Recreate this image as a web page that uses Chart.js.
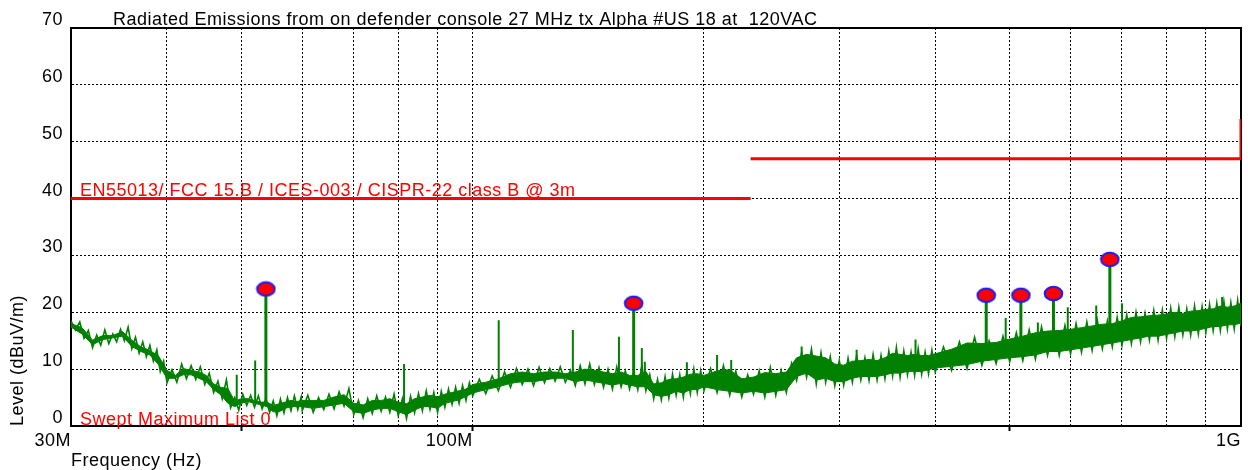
<!DOCTYPE html>
<html><head><meta charset="utf-8">
<script src="https://cdn.jsdelivr.net/npm/chart.js@4.4.1/dist/chart.umd.min.js"></script>
<style>html,body{margin:0;padding:0;background:#fff;overflow:hidden}</style>
</head><body>
<canvas id="c" width="1248" height="470"></canvas>
<script>
const chartTitle = 'Radiated Emissions from on defender console 27 MHz tx Alpha #US 18 at  120VAC';
const limitLabel = 'EN55013/ FCC 15.B / ICES-003 / CISPR-22 class B @ 3m';
const traceLabel = 'Swept Maximum List 0';
const xAxisTitle = 'Frequency (Hz)';
const yAxisTitle = 'Level (dBuV/m)';

const xTickValues = [30,40,50,60,70,80,90,100,200,300,400,500,600,700,800,900,1000];
const xTickLabels = {30:'30M', 100:'100M', 1000:'1G'};
const xMarkedTicks = [50,100,500];

// solid core of the swept trace (MHz, dBuV/m)
const coreFreqMHz = [30,31,32,33,34,35,36,37,38,39,40,41,42,43,44,45,46,47,48,49,50,51,52,53,54,55,56,57,58,59,60,
  62,64,66,68,70,72,74,76,78,80,82,84,86,88,90,92,94,96,98,100,
  104,108,112,116,120,124,128,132,136,140,144,148,152,156,160,164,168,172,176,180,184,188,192,196,200,
  208,216,224,232,240,248,256,264,272,280,288,296,304,312,320,328,336,344,352,360,368,376,384,392,400,
  420,440,460,480,500,520,540,560,580,600,620,640,660,680,700,720,740,760,780,800,820,840,860,880,900,920,940,960,980,1000];
const coreUpper = [18.0,17.3,15.1,15.9,15.9,16.6,15.1,13.9,13.3,12.3,9.8,8.9,10.1,9.8,9.5,8.9,7.4,6.8,6.6,4.4,4.8,4.8,4.5,4.2,4.2,3.6,3.9,4.2,4.5,4.3,4.5,
  4.5,4.5,5.1,5.5,4.0,3.7,4.5,4.5,4.8,4.2,3.9,4.8,5.1,5.4,5.1,5.6,5.9,6.2,6.5,7.3,
  7.7,8.3,9.2,9.5,9.2,9.5,9.5,9.2,9.5,10.0,9.8,9.5,9.2,9.5,8.9,8.9,9.6,7.4,7.6,8.2,8.3,8.6,9.1,9.2,8.9,
  9.7,9.9,8.3,8.6,9.4,9.2,9.5,12.0,12.6,12.3,12.0,10.9,10.7,11.4,11.5,11.7,11.5,12.0,12.8,12.6,12.4,12.6,12.4,12.4,12.7,
  13.5,14.6,14.5,14.7,15.3,15.8,16.4,16.7,16.8,17.0,17.3,17.6,17.9,18.0,18.5,19.1,19.2,19.4,19.5,19.7,20.0,19.8,20.2,20.3,20.5,20.6,21.1,20.9,21.1,21.6];
const coreLower = [17.4,16.2,14.3,15.2,15.5,15.8,14.0,13.1,12.5,10.8,8.4,8.4,9.0,9.0,8.4,7.8,6.4,5.5,4.0,3.4,4.0,4.3,4.0,3.7,3.4,2.5,2.5,3.1,3.4,3.4,3.4,
  3.1,3.4,3.7,4.0,2.5,2.2,2.8,3.1,3.1,2.5,2.0,2.8,3.4,3.4,3.1,4.0,4.3,4.6,5.2,5.8,
  6.4,6.9,7.5,7.8,7.8,8.1,8.4,8.4,7.8,8.1,7.8,7.5,7.2,7.5,7.2,6.9,6.9,5.5,5.2,5.5,6.1,5.8,6.4,6.4,6.9,
  6.4,6.1,5.8,6.1,5.8,6.1,6.4,8.7,9.3,8.1,8.4,7.8,7.8,8.4,8.7,8.7,8.7,9.0,9.3,9.3,9.6,9.6,9.6,9.9,10.2,
  10.5,10.8,11.4,11.7,12.0,12.2,12.5,13.1,13.1,13.4,13.7,14.0,14.3,14.6,14.9,15.2,15.5,15.8,15.8,16.1,16.4,16.7,16.7,16.9,17.2,17.5,17.5,17.8,17.8,18.1];

// sampled noise excursions of the swept trace (MHz, dBuV/m)
const noiseFreqMHz = [30.0,30.4,30.8,31.2,31.6,32.0,32.4,32.8,33.2,33.6,34.0,34.4,34.8,35.2,35.6,36.0,36.4,36.8,37.2,37.6,38.0,38.4,38.8,39.2,39.6,
  40.0,40.6,41.2,41.8,42.4,43.0,43.6,44.2,44.8,45.4,46.0,46.6,47.2,47.8,48.4,49.0,49.6,50.2,50.8,51.4,52.0,52.6,53.2,53.8,54.4,55.0,55.6,56.2,56.8,57.4,58.0,58.6,59.2,59.8,
  60,61,62,63,64,65,66,67,68,69,70,71,72,73,74,75,76,77,78,79,80,81,82,83,84,85,86,87,88,89,90,91,92,93,94,95,96,97,98,99,
  100,102,104,106,108,110,112,114,116,118,120,122,124,126,128,130,132,134,136,138,140,142,144,146,148,150,152,154,156,158,160,162,164,166,168,170,172,174,176,178,180,182,184,186,188,190,192,194,196,198,
  200,204,208,212,216,220,224,228,232,236,240,244,248,252,256,260,264,268,272,276,280,284,288,292,296,300,304,308,312,316,320,324,328,332,336,340,344,348,352,356,360,364,368,372,376,380,384,388,392,396,
  400,410,420,430,440,450,460,470,480,490,500,510,520,530,540,550,560,570,580,590,600,610,620,630,640,650,660,670,680,690,700,710,720,730,740,750,760,770,780,790,800,810,820,830,840,850,860,870,880,890,900,910,920,930,940,950,960,970,980,990,1000];
const noiseLevel = [18.5,16.9,18.3,15.4,16.8,13.8,16.0,14.2,16.9,14.5,16.2,14.8,17.0,15.0,17.4,13.6,15.6,12.8,14.8,12.2,14.2,11.4,13.4,9.6,11.4,
  7.6,9.9,7.7,10.9,8.3,10.6,8.2,10.4,7.3,9.3,5.9,7.9,4.8,8.1,3.2,5.0,2.8,5.6,3.6,5.4,3.3,5.3,3.0,4.8,2.4,4.4,1.8,4.7,2.3,5.0,2.7,5.3,2.9,5.1,
  2.7,5.4,2.4,5.0,2.9,5.6,3.0,6.0,3.5,6.6,2.0,4.5,1.5,4.8,2.2,5.3,2.6,5.1,2.4,5.6,1.8,4.8,1.3,5.2,2.3,5.7,2.7,6.2,2.9,5.9,2.4,6.1,3.3,6.5,3.8,6.8,4.0,7.1,4.5,7.6,
  5.3,8.2,5.7,8.8,6.2,9.5,6.8,10.1,7.3,10.0,7.1,10.3,7.6,10.1,7.9,10.4,7.7,9.8,7.1,10.6,7.4,10.9,7.3,10.3,6.8,10.0,6.5,10.4,6.9,9.7,6.5,9.5,6.4,10.6,6.2,9.0,4.8,8.2,4.6,8.7,4.9,9.1,5.4,9.0,5.1,9.6,5.7,10.0,5.9,9.7,
  6.2,10.1,5.9,10.6,5.4,9.6,5.1,9.0,5.6,9.7,5.1,10.3,5.4,9.8,5.9,11.0,8.0,13.0,8.6,13.5,7.4,12.9,7.7,12.2,7.1,11.5,7.2,11.9,7.7,12.4,8.1,12.0,8.0,12.6,8.1,12.4,8.3,13.2,8.8,13.8,8.6,13.2,9.0,13.0,8.9,13.6,9.1,13.0,9.2,13.3,
  9.5,13.9,9.8,14.8,10.1,15.6,10.7,15.0,11.0,15.8,11.3,16.4,11.5,16.9,11.8,17.4,12.4,17.3,12.4,17.7,12.7,18.0,13.0,18.3,13.3,18.6,13.6,18.5,13.9,19.1,14.2,19.6,14.5,20.0,14.8,19.8,15.1,20.3,15.1,20.4,15.4,20.7,15.7,20.9,16.0,20.6,16.0,21.1,16.2,21.0,16.5,21.4,16.8,21.6,16.8,21.9,17.1,21.7,17.1,22.1,17.6];

// narrow spurs in the trace
const spikeFreqMHz = [49.3,52.1,81.4,108.1,135,155,166,167.5,190,208,217,268,316,377,494,544,595,648,700,945];
const spikeTop     = [9.0,11.5,10.9,18.6,16.9,15.7,13.7,11.3,11.2,12.5,11.6,14.0,13.4,15.2,19.0,18.2,20.9,21.2,21.6,22.7];
const spikeBase    = [4.0,4.0,3.0,7.0,8.0,8.0,8.0,7.0,7.0,7.0,7.0,10.0,10.0,11.0,13.0,14.0,15.0,16.0,17.0,19.0];

// marked peaks
const markerFreqMHz = [53.8,162,466,517,570,675];
const markerLevel   = [24.1,21.6,23.0,23.0,23.3,29.3];
const markerBase    = [4.0,8.0,13.0,14.0,15.0,17.0];

// limit line
const limitFreqMHz = [30,230,230,230,1000,1000];
const limitLevel   = [40,40,null,47,47,54];

const FONT = '"Liberation Sans", Arial, sans-serif';
Chart.defaults.font.family = FONT;
Chart.defaults.font.size = 18;
Chart.defaults.color = '#000';

function pts(xs, ys){ return xs.map((x,i)=>({x:x, y:ys[i]})); }
function stems(xs, tops, bases){
  const d = [];
  xs.forEach((x,i)=>{ d.push({x:x,y:bases[i]},{x:x,y:tops[i]},{x:x,y:null}); });
  return d;
}

const markerImg = document.createElement('canvas');
markerImg.width = 21; markerImg.height = 17;
(function(){
  const m = markerImg.getContext('2d');
  m.beginPath(); m.ellipse(10.5, 8.5, 8.8, 6.8, 0, 0, Math.PI*2);
  m.fillStyle = '#ff0000'; m.fill();
  m.lineWidth = 2; m.strokeStyle = '#1a1aff'; m.stroke();
})();

const GREEN = '#008000';

const extras = {
  id: 'extras',
  beforeLayout(chart){ chart.ctx.letterSpacing = '0.5px'; },
  beforeDraw(chart){ chart.ctx.letterSpacing = '0.5px'; },
  beforeDatasetsDraw(chart){
    const {ctx, chartArea:a} = chart;
    ctx.save();
    ctx.strokeStyle = '#000'; ctx.lineWidth = 2;
    ctx.beginPath();
    ctx.moveTo(a.left - 1, a.top); ctx.lineTo(a.right, a.top); ctx.lineTo(a.right, a.bottom);
    ctx.stroke();
    ctx.restore();
  },
  afterDatasetsDraw(chart){
    const {ctx, chartArea:a, scales} = chart;
    ctx.save();
    ctx.letterSpacing = '0.5px';
    ctx.font = '18px ' + FONT;
    ctx.textAlign = 'left'; ctx.textBaseline = 'alphabetic';
    ctx.fillStyle = '#000';
    ctx.fillText(chartTitle, 113, 25);
    ctx.fillStyle = '#ff0000';
    ctx.fillText(limitLabel, a.left + 9, scales.y.getPixelForValue(limitLevel[0]) - 3);
    ctx.fillText(traceLabel, a.left + 9, a.bottom - 1);
    ctx.restore();
  }
};

new Chart(document.getElementById('c'), {
  type: 'line',
  data: {
    datasets: [
      { data: pts(markerFreqMHz, markerLevel), showLine: false, pointStyle: markerImg, pointRadius: 10, borderColor: 'transparent', backgroundColor: 'transparent' },
      { data: pts(limitFreqMHz, limitLevel), borderColor: '#ff0000', borderWidth: 3, pointRadius: 0, spanGaps: false, fill: false },
      { data: stems(markerFreqMHz, markerLevel, markerBase), borderColor: GREEN, borderWidth: 3, pointRadius: 0, spanGaps: false, fill: false },
      { data: stems(spikeFreqMHz, spikeTop, spikeBase), borderColor: GREEN, borderWidth: 2, pointRadius: 0, spanGaps: false, fill: false },
      { data: pts(noiseFreqMHz, noiseLevel), borderColor: GREEN, borderWidth: 1.6, pointRadius: 0, fill: false },
      { data: pts(coreFreqMHz, coreUpper), borderColor: GREEN, borderWidth: 1, pointRadius: 0, fill: 6, backgroundColor: GREEN },
      { data: pts(coreFreqMHz, coreLower), borderColor: GREEN, borderWidth: 1, pointRadius: 0, fill: false }
    ]
  },
  options: {
    responsive: false,
    animation: false,
    devicePixelRatio: 1,
    events: [],
    layout: { autoPadding: false, padding: { top: 28, right: 7, bottom: 0, left: 0 } },
    elements: { line: { tension: 0 } },
    plugins: { legend: { display: false }, tooltip: { enabled: false } },
    scales: {
      x: {
        type: 'logarithmic', min: 30, max: 1000,
        afterBuildTicks: s => { s.ticks = xTickValues.map(v => ({ value: v })); },
        afterFit: s => { s.height = 44; s.paddingLeft = 0; s.paddingRight = 0; },
        ticks: { autoSkip: false, maxRotation: 0, minRotation: 0, align: 'end', padding: 1, color: '#000',
                 font: { size: 18, lineHeight: 1 }, callback: v => xTickLabels[v] || '' },
        grid: {
          color: c => (c.tick && (c.tick.value === 30 || c.tick.value === 1000)) ? 'rgba(0,0,0,0)' : '#000',
          lineWidth: 1, drawTicks: true, tickLength: 5, tickWidth: 2,
          tickColor: c => (c.tick && xMarkedTicks.includes(c.tick.value)) ? '#000' : 'rgba(0,0,0,0)'
        },
        border: { display: true, color: '#000', width: 2, dash: [2, 2] },
        title: { display: true, text: xAxisTitle, align: 'start', color: '#000', font: { size: 18, lineHeight: 1 }, padding: 0 }
      },
      y: {
        type: 'linear', min: 0, max: 70,
        afterFit: s => { s.width = 71; s.paddingTop = 0; s.paddingBottom = 0; },
        ticks: { stepSize: 10, color: '#000', padding: 8, labelOffset: -8, font: { size: 18 } },
        grid: {
          color: c => (c.tick && (c.tick.value === 0 || c.tick.value === 70)) ? 'rgba(0,0,0,0)' : '#000',
          lineWidth: 1, drawTicks: false
        },
        border: { display: true, color: '#000', width: 2, dash: [2, 2] },
        title: { display: true, text: yAxisTitle, align: 'start', color: '#000', font: { size: 18, lineHeight: 1.2 }, padding: { top: 7, bottom: 0 } }
      }
    }
  },
  plugins: [extras]
});
</script>
</body></html>
